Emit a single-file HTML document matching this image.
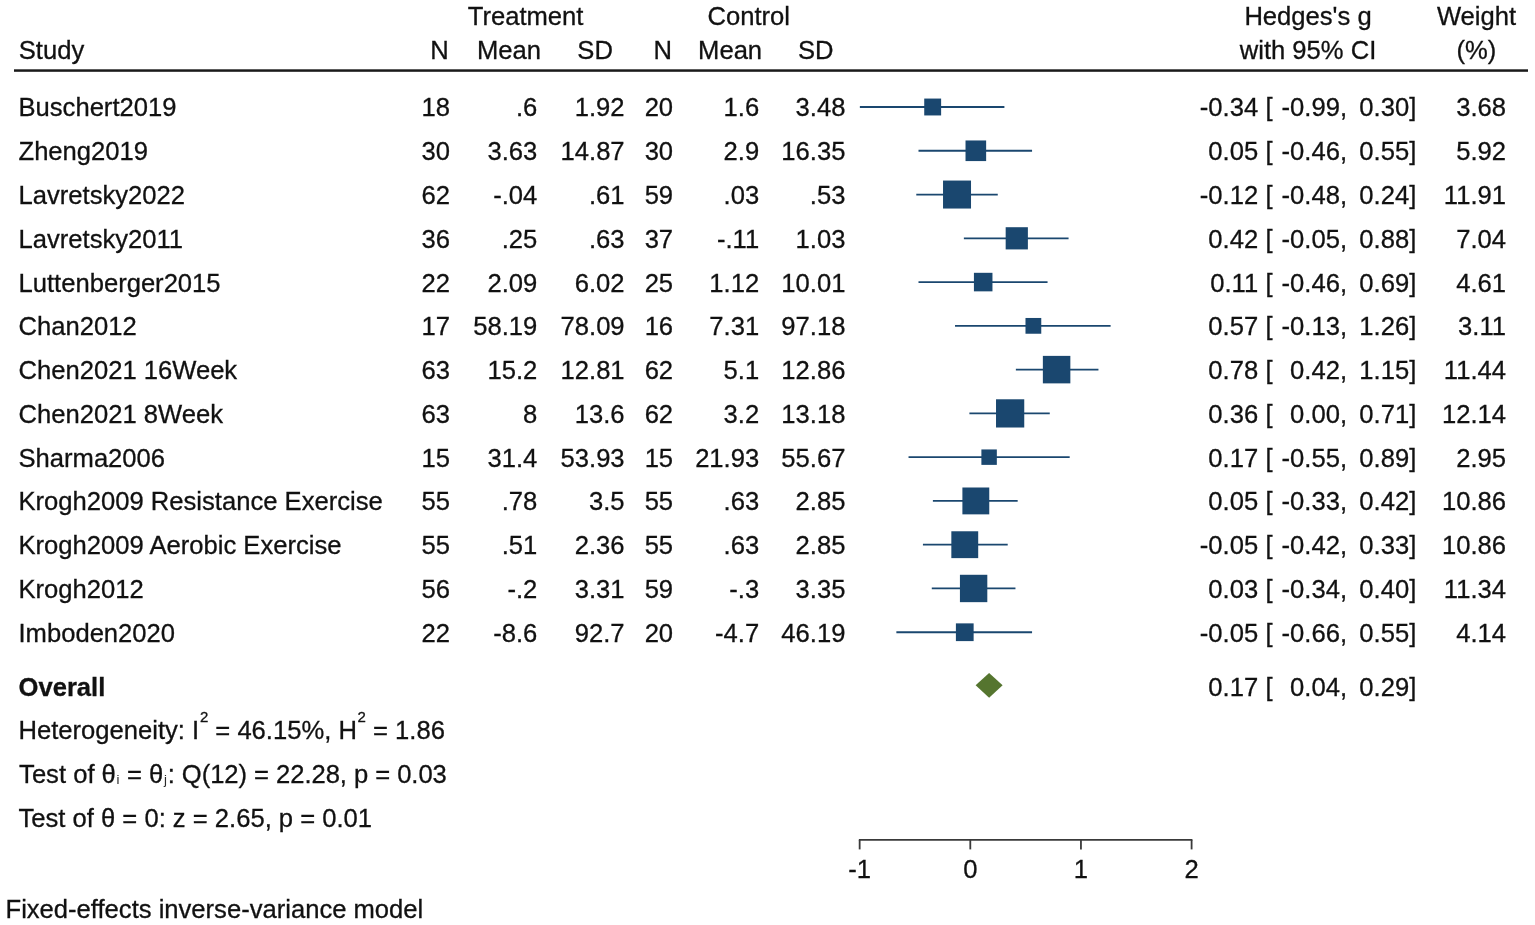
<!DOCTYPE html>
<html><head><meta charset="utf-8"><title>Forest plot</title>
<style>
html,body{margin:0;padding:0;background:#fff;}
svg{display:block;}
text{font-family:"Liberation Sans",Arial,Helvetica,sans-serif;font-size:25.6px;fill:#111;stroke:#111;stroke-width:0.3px;white-space:pre;}
.sub{font-size:13.2px;stroke:none;fill:#2a2a2a;}
</style></head><body>
<svg width="1535" height="925" viewBox="0 0 1535 925">
<rect width="1535" height="925" fill="#fff"/>
<text x="525.60" y="24.60" text-anchor="middle">Treatment</text>
<text x="748.70" y="24.60" text-anchor="middle">Control</text>
<text x="1308.00" y="24.60" text-anchor="middle">Hedges's g</text>
<text x="1476.50" y="24.60" text-anchor="middle">Weight</text>
<text x="18.80" y="58.90" text-anchor="start">Study</text>
<text x="439.40" y="58.90" text-anchor="middle">N</text>
<text x="508.90" y="58.90" text-anchor="middle">Mean</text>
<text x="595.10" y="58.90" text-anchor="middle">SD</text>
<text x="662.70" y="58.90" text-anchor="middle">N</text>
<text x="730.10" y="58.90" text-anchor="middle">Mean</text>
<text x="815.80" y="58.90" text-anchor="middle">SD</text>
<text x="1308.00" y="58.90" text-anchor="middle">with 95% CI</text>
<text x="1476.50" y="58.90" text-anchor="middle">(%)</text>
<rect x="14" y="69.3" width="1514" height="2.5" fill="#1a1a1a"/>
<text x="18.50" y="116.45" text-anchor="start">Buschert2019</text>
<text x="449.90" y="116.45" text-anchor="end">18</text>
<text x="537.30" y="116.45" text-anchor="end">.6</text>
<text x="624.60" y="116.45" text-anchor="end">1.92</text>
<text x="673.10" y="116.45" text-anchor="end">20</text>
<text x="759.20" y="116.45" text-anchor="end">1.6</text>
<text x="845.40" y="116.45" text-anchor="end">3.48</text>
<text x="1258.20" y="116.45" text-anchor="end">-0.34</text>
<text x="1265.50" y="116.45" text-anchor="start">[</text>
<text x="1347.00" y="116.45" text-anchor="end">-0.99,</text>
<text x="1416.30" y="116.45" text-anchor="end">0.30]</text>
<text x="1506.00" y="116.45" text-anchor="end">3.68</text>
<line x1="860.76" y1="107.00" x2="1003.50" y2="107.00" stroke="#1a476f" stroke-width="1.8" stroke-linecap="square"/>
<rect x="924.23" y="98.56" width="16.89" height="16.89" fill="#1a476f"/>
<text x="18.50" y="160.22" text-anchor="start">Zheng2019</text>
<text x="449.90" y="160.22" text-anchor="end">30</text>
<text x="537.30" y="160.22" text-anchor="end">3.63</text>
<text x="624.60" y="160.22" text-anchor="end">14.87</text>
<text x="673.10" y="160.22" text-anchor="end">30</text>
<text x="759.20" y="160.22" text-anchor="end">2.9</text>
<text x="845.40" y="160.22" text-anchor="end">16.35</text>
<text x="1258.20" y="160.22" text-anchor="end">0.05</text>
<text x="1265.50" y="160.22" text-anchor="start">[</text>
<text x="1347.00" y="160.22" text-anchor="end">-0.46,</text>
<text x="1416.30" y="160.22" text-anchor="end">0.55]</text>
<text x="1506.00" y="160.22" text-anchor="end">5.92</text>
<line x1="919.40" y1="150.77" x2="1031.16" y2="150.77" stroke="#1a476f" stroke-width="1.8" stroke-linecap="square"/>
<rect x="965.52" y="140.46" width="20.62" height="20.62" fill="#1a476f"/>
<text x="18.50" y="203.99" text-anchor="start">Lavretsky2022</text>
<text x="449.90" y="203.99" text-anchor="end">62</text>
<text x="537.30" y="203.99" text-anchor="end">-.04</text>
<text x="624.60" y="203.99" text-anchor="end">.61</text>
<text x="673.10" y="203.99" text-anchor="end">59</text>
<text x="759.20" y="203.99" text-anchor="end">.03</text>
<text x="845.40" y="203.99" text-anchor="end">.53</text>
<text x="1258.20" y="203.99" text-anchor="end">-0.12</text>
<text x="1265.50" y="203.99" text-anchor="start">[</text>
<text x="1347.00" y="203.99" text-anchor="end">-0.48,</text>
<text x="1416.30" y="203.99" text-anchor="end">0.24]</text>
<text x="1506.00" y="203.99" text-anchor="end">11.91</text>
<line x1="917.19" y1="194.54" x2="996.86" y2="194.54" stroke="#1a476f" stroke-width="1.8" stroke-linecap="square"/>
<rect x="943.03" y="180.55" width="27.99" height="27.99" fill="#1a476f"/>
<text x="18.50" y="247.76" text-anchor="start">Lavretsky2011</text>
<text x="449.90" y="247.76" text-anchor="end">36</text>
<text x="537.30" y="247.76" text-anchor="end">.25</text>
<text x="624.60" y="247.76" text-anchor="end">.63</text>
<text x="673.10" y="247.76" text-anchor="end">37</text>
<text x="759.20" y="247.76" text-anchor="end">-.11</text>
<text x="845.40" y="247.76" text-anchor="end">1.03</text>
<text x="1258.20" y="247.76" text-anchor="end">0.42</text>
<text x="1265.50" y="247.76" text-anchor="start">[</text>
<text x="1347.00" y="247.76" text-anchor="end">-0.05,</text>
<text x="1416.30" y="247.76" text-anchor="end">0.88]</text>
<text x="1506.00" y="247.76" text-anchor="end">7.04</text>
<line x1="964.77" y1="238.31" x2="1067.67" y2="238.31" stroke="#1a476f" stroke-width="1.8" stroke-linecap="square"/>
<rect x="1005.67" y="227.21" width="22.21" height="22.21" fill="#1a476f"/>
<text x="18.50" y="291.53" text-anchor="start">Luttenberger2015</text>
<text x="449.90" y="291.53" text-anchor="end">22</text>
<text x="537.30" y="291.53" text-anchor="end">2.09</text>
<text x="624.60" y="291.53" text-anchor="end">6.02</text>
<text x="673.10" y="291.53" text-anchor="end">25</text>
<text x="759.20" y="291.53" text-anchor="end">1.12</text>
<text x="845.40" y="291.53" text-anchor="end">10.01</text>
<text x="1258.20" y="291.53" text-anchor="end">0.11</text>
<text x="1265.50" y="291.53" text-anchor="start">[</text>
<text x="1347.00" y="291.53" text-anchor="end">-0.46,</text>
<text x="1416.30" y="291.53" text-anchor="end">0.69]</text>
<text x="1506.00" y="291.53" text-anchor="end">4.61</text>
<line x1="919.40" y1="282.08" x2="1046.65" y2="282.08" stroke="#1a476f" stroke-width="1.8" stroke-linecap="square"/>
<rect x="973.92" y="272.81" width="18.54" height="18.54" fill="#1a476f"/>
<text x="18.50" y="335.30" text-anchor="start">Chan2012</text>
<text x="449.90" y="335.30" text-anchor="end">17</text>
<text x="537.30" y="335.30" text-anchor="end">58.19</text>
<text x="624.60" y="335.30" text-anchor="end">78.09</text>
<text x="673.10" y="335.30" text-anchor="end">16</text>
<text x="759.20" y="335.30" text-anchor="end">7.31</text>
<text x="845.40" y="335.30" text-anchor="end">97.18</text>
<text x="1258.20" y="335.30" text-anchor="end">0.57</text>
<text x="1265.50" y="335.30" text-anchor="start">[</text>
<text x="1347.00" y="335.30" text-anchor="end">-0.13,</text>
<text x="1416.30" y="335.30" text-anchor="end">1.26]</text>
<text x="1506.00" y="335.30" text-anchor="end">3.11</text>
<line x1="955.92" y1="325.85" x2="1109.72" y2="325.85" stroke="#1a476f" stroke-width="1.8" stroke-linecap="square"/>
<rect x="1025.49" y="317.97" width="15.77" height="15.77" fill="#1a476f"/>
<text x="18.50" y="379.07" text-anchor="start">Chen2021 16Week</text>
<text x="449.90" y="379.07" text-anchor="end">63</text>
<text x="537.30" y="379.07" text-anchor="end">15.2</text>
<text x="624.60" y="379.07" text-anchor="end">12.81</text>
<text x="673.10" y="379.07" text-anchor="end">62</text>
<text x="759.20" y="379.07" text-anchor="end">5.1</text>
<text x="845.40" y="379.07" text-anchor="end">12.86</text>
<text x="1258.20" y="379.07" text-anchor="end">0.78</text>
<text x="1265.50" y="379.07" text-anchor="start">[</text>
<text x="1347.00" y="379.07" text-anchor="end">0.42,</text>
<text x="1416.30" y="379.07" text-anchor="end">1.15]</text>
<text x="1506.00" y="379.07" text-anchor="end">11.44</text>
<line x1="1016.77" y1="369.62" x2="1097.55" y2="369.62" stroke="#1a476f" stroke-width="1.8" stroke-linecap="square"/>
<rect x="1042.86" y="355.88" width="27.49" height="27.49" fill="#1a476f"/>
<text x="18.50" y="422.84" text-anchor="start">Chen2021 8Week</text>
<text x="449.90" y="422.84" text-anchor="end">63</text>
<text x="537.30" y="422.84" text-anchor="end">8</text>
<text x="624.60" y="422.84" text-anchor="end">13.6</text>
<text x="673.10" y="422.84" text-anchor="end">62</text>
<text x="759.20" y="422.84" text-anchor="end">3.2</text>
<text x="845.40" y="422.84" text-anchor="end">13.18</text>
<text x="1258.20" y="422.84" text-anchor="end">0.36</text>
<text x="1265.50" y="422.84" text-anchor="start">[</text>
<text x="1347.00" y="422.84" text-anchor="end">0.00,</text>
<text x="1416.30" y="422.84" text-anchor="end">0.71]</text>
<text x="1506.00" y="422.84" text-anchor="end">12.14</text>
<line x1="970.30" y1="413.39" x2="1048.86" y2="413.39" stroke="#1a476f" stroke-width="1.8" stroke-linecap="square"/>
<rect x="996.02" y="399.28" width="28.23" height="28.23" fill="#1a476f"/>
<text x="18.50" y="466.61" text-anchor="start">Sharma2006</text>
<text x="449.90" y="466.61" text-anchor="end">15</text>
<text x="537.30" y="466.61" text-anchor="end">31.4</text>
<text x="624.60" y="466.61" text-anchor="end">53.93</text>
<text x="673.10" y="466.61" text-anchor="end">15</text>
<text x="759.20" y="466.61" text-anchor="end">21.93</text>
<text x="845.40" y="466.61" text-anchor="end">55.67</text>
<text x="1258.20" y="466.61" text-anchor="end">0.17</text>
<text x="1265.50" y="466.61" text-anchor="start">[</text>
<text x="1347.00" y="466.61" text-anchor="end">-0.55,</text>
<text x="1416.30" y="466.61" text-anchor="end">0.89]</text>
<text x="1506.00" y="466.61" text-anchor="end">2.95</text>
<line x1="909.44" y1="457.16" x2="1068.78" y2="457.16" stroke="#1a476f" stroke-width="1.8" stroke-linecap="square"/>
<rect x="981.39" y="449.44" width="15.44" height="15.44" fill="#1a476f"/>
<text x="18.50" y="510.38" text-anchor="start">Krogh2009 Resistance Exercise</text>
<text x="449.90" y="510.38" text-anchor="end">55</text>
<text x="537.30" y="510.38" text-anchor="end">.78</text>
<text x="624.60" y="510.38" text-anchor="end">3.5</text>
<text x="673.10" y="510.38" text-anchor="end">55</text>
<text x="759.20" y="510.38" text-anchor="end">.63</text>
<text x="845.40" y="510.38" text-anchor="end">2.85</text>
<text x="1258.20" y="510.38" text-anchor="end">0.05</text>
<text x="1265.50" y="510.38" text-anchor="start">[</text>
<text x="1347.00" y="510.38" text-anchor="end">-0.33,</text>
<text x="1416.30" y="510.38" text-anchor="end">0.42]</text>
<text x="1506.00" y="510.38" text-anchor="end">10.86</text>
<line x1="933.79" y1="500.93" x2="1016.77" y2="500.93" stroke="#1a476f" stroke-width="1.8" stroke-linecap="square"/>
<rect x="962.40" y="487.50" width="26.86" height="26.86" fill="#1a476f"/>
<text x="18.50" y="554.15" text-anchor="start">Krogh2009 Aerobic Exercise</text>
<text x="449.90" y="554.15" text-anchor="end">55</text>
<text x="537.30" y="554.15" text-anchor="end">.51</text>
<text x="624.60" y="554.15" text-anchor="end">2.36</text>
<text x="673.10" y="554.15" text-anchor="end">55</text>
<text x="759.20" y="554.15" text-anchor="end">.63</text>
<text x="845.40" y="554.15" text-anchor="end">2.85</text>
<text x="1258.20" y="554.15" text-anchor="end">-0.05</text>
<text x="1265.50" y="554.15" text-anchor="start">[</text>
<text x="1347.00" y="554.15" text-anchor="end">-0.42,</text>
<text x="1416.30" y="554.15" text-anchor="end">0.33]</text>
<text x="1506.00" y="554.15" text-anchor="end">10.86</text>
<line x1="923.83" y1="544.70" x2="1006.81" y2="544.70" stroke="#1a476f" stroke-width="1.8" stroke-linecap="square"/>
<rect x="951.34" y="531.27" width="26.86" height="26.86" fill="#1a476f"/>
<text x="18.50" y="597.92" text-anchor="start">Krogh2012</text>
<text x="449.90" y="597.92" text-anchor="end">56</text>
<text x="537.30" y="597.92" text-anchor="end">-.2</text>
<text x="624.60" y="597.92" text-anchor="end">3.31</text>
<text x="673.10" y="597.92" text-anchor="end">59</text>
<text x="759.20" y="597.92" text-anchor="end">-.3</text>
<text x="845.40" y="597.92" text-anchor="end">3.35</text>
<text x="1258.20" y="597.92" text-anchor="end">0.03</text>
<text x="1265.50" y="597.92" text-anchor="start">[</text>
<text x="1347.00" y="597.92" text-anchor="end">-0.34,</text>
<text x="1416.30" y="597.92" text-anchor="end">0.40]</text>
<text x="1506.00" y="597.92" text-anchor="end">11.34</text>
<line x1="932.68" y1="588.47" x2="1014.56" y2="588.47" stroke="#1a476f" stroke-width="1.8" stroke-linecap="square"/>
<rect x="959.93" y="574.78" width="27.38" height="27.38" fill="#1a476f"/>
<text x="18.50" y="641.69" text-anchor="start">Imboden2020</text>
<text x="449.90" y="641.69" text-anchor="end">22</text>
<text x="537.30" y="641.69" text-anchor="end">-8.6</text>
<text x="624.60" y="641.69" text-anchor="end">92.7</text>
<text x="673.10" y="641.69" text-anchor="end">20</text>
<text x="759.20" y="641.69" text-anchor="end">-4.7</text>
<text x="845.40" y="641.69" text-anchor="end">46.19</text>
<text x="1258.20" y="641.69" text-anchor="end">-0.05</text>
<text x="1265.50" y="641.69" text-anchor="start">[</text>
<text x="1347.00" y="641.69" text-anchor="end">-0.66,</text>
<text x="1416.30" y="641.69" text-anchor="end">0.55]</text>
<text x="1506.00" y="641.69" text-anchor="end">4.14</text>
<line x1="897.27" y1="632.24" x2="1031.16" y2="632.24" stroke="#1a476f" stroke-width="1.8" stroke-linecap="square"/>
<rect x="955.90" y="623.37" width="17.73" height="17.73" fill="#1a476f"/>
<text x="18.50" y="695.50" text-anchor="start" font-weight="bold">Overall</text>
<text x="1258.20" y="695.50" text-anchor="end">0.17</text>
<text x="1265.50" y="695.50" text-anchor="start">[</text>
<text x="1347.00" y="695.50" text-anchor="end">0.04,</text>
<text x="1416.30" y="695.50" text-anchor="end">0.29]</text>
<polygon points="975.61,685.35 989.11,672.95 1002.61,685.35 989.11,697.75" fill="#55752f"/>
<text x="18.50" y="739.30" text-anchor="start">Heterogeneity: I<tspan font-size="15" dx="0.7" dy="-17.2">2</tspan><tspan dy="17.2"> = 46.15%, H</tspan><tspan font-size="15" dx="0.7" dy="-17.2">2</tspan><tspan dy="17.2"> = 1.86</tspan></text>
<text x="19.10" y="783.20" text-anchor="start">Test of θ<tspan class="sub" dx="0.6" dy="0.6">i</tspan><tspan dy="-0.6" dx="0.5"> = θ</tspan><tspan class="sub" dx="0.8" dy="0.6">j</tspan><tspan dy="-0.6" dx="0.7" letter-spacing="-0.05">: Q(12) = 22.28, p = 0.03</tspan></text>
<text x="18.50" y="826.50" text-anchor="start">Test of θ = 0: z = 2.65, p = 0.01</text>
<text x="5.50" y="917.60" text-anchor="start">Fixed-effects inverse-variance model</text>
<line x1="858.85" y1="839.90" x2="1192.40" y2="839.90" stroke="#3a3a3a" stroke-width="1.8"/>
<line x1="859.65" y1="839.90" x2="859.65" y2="849.40" stroke="#3a3a3a" stroke-width="1.8"/>
<text x="859.65" y="877.60" text-anchor="middle">-1</text>
<line x1="970.30" y1="839.90" x2="970.30" y2="849.40" stroke="#3a3a3a" stroke-width="1.8"/>
<text x="970.30" y="877.60" text-anchor="middle">0</text>
<line x1="1080.95" y1="839.90" x2="1080.95" y2="849.40" stroke="#3a3a3a" stroke-width="1.8"/>
<text x="1080.95" y="877.60" text-anchor="middle">1</text>
<line x1="1191.60" y1="839.90" x2="1191.60" y2="849.40" stroke="#3a3a3a" stroke-width="1.8"/>
<text x="1191.60" y="877.60" text-anchor="middle">2</text>
</svg>
</body></html>
